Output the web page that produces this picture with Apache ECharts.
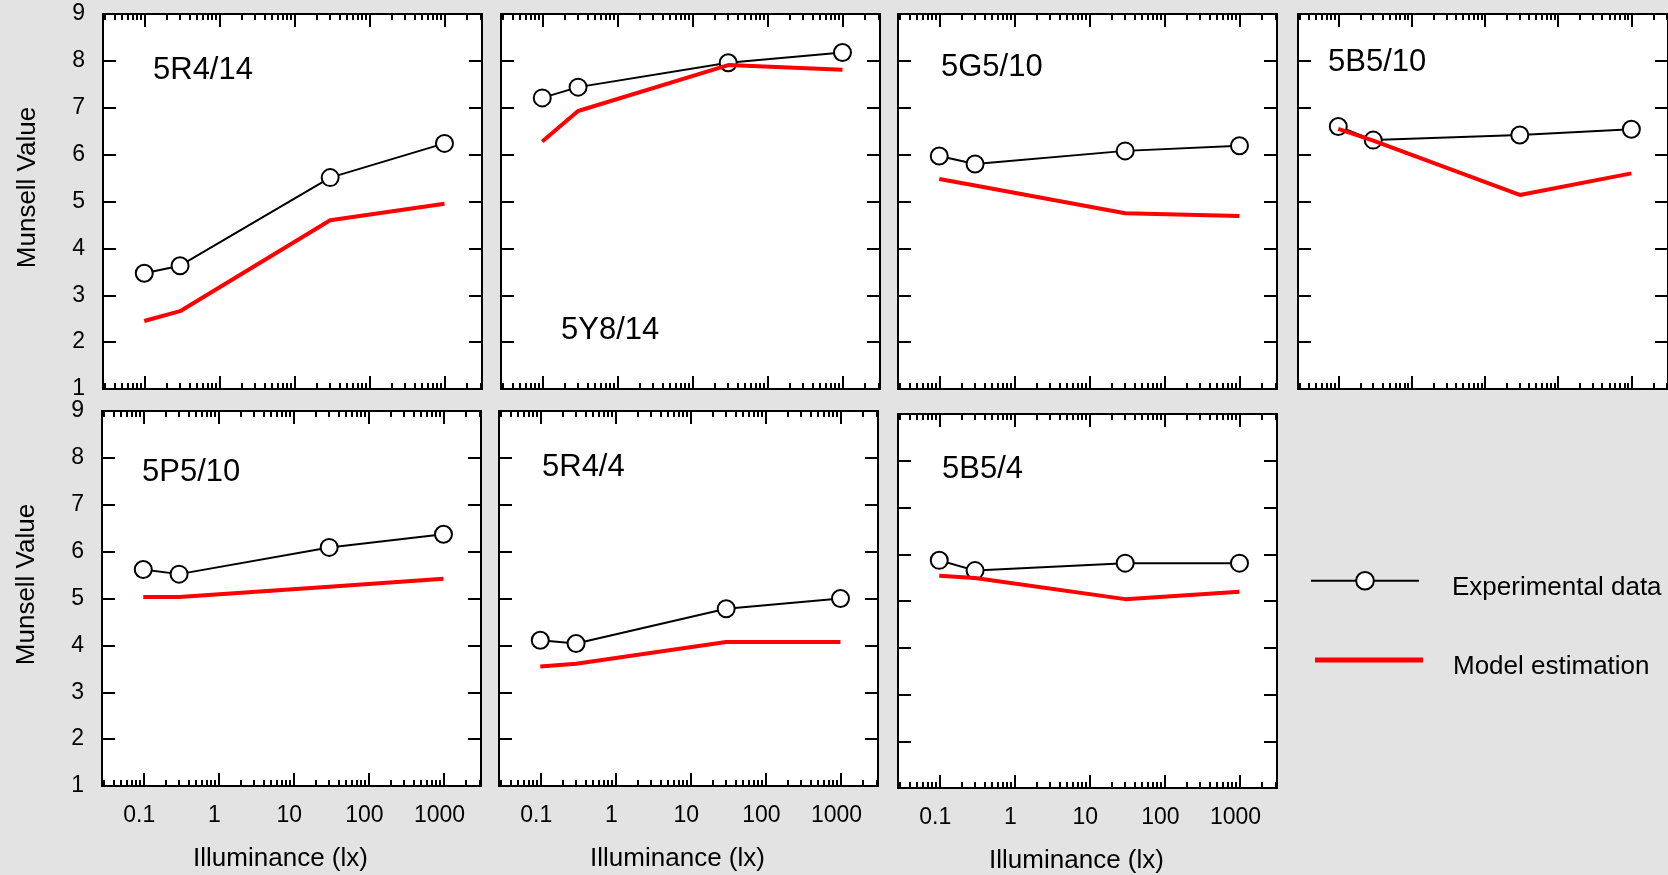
<!DOCTYPE html>
<html><head><meta charset="utf-8">
<script src="https://cdn.jsdelivr.net/npm/echarts@6/dist/echarts.min.js"></script>
<style>html,body{margin:0;padding:0;background:#e3e3e3;}#c{width:1668px;height:875px;}</style>
</head><body><div id="c"></div>
<script>
// ---------- data ----------
const illuminance = [0.1, 0.3, 30, 1000];
const panelNames = ['5R4/14', '5Y8/14', '5G5/10', '5B5/10', '5P5/10', '5R4/4', '5B5/4'];
const exp_5R4_14 = [3.47, 3.63, 5.51, 6.24];
const model_5R4_14 = [2.45, 2.66, 4.60, 4.95];
const exp_5Y8_14 = [7.21, 7.44, 7.96, 8.18];
const model_5Y8_14 = [6.28, 6.93, 7.91, 7.81];
const exp_5G5_10 = [5.97, 5.80, 6.08, 6.19];
const model_5G5_10 = [5.48, 5.34, 4.75, 4.69];
const exp_5B5_10 = [6.60, 6.31, 6.42, 6.54];
const model_5B5_10 = [6.55, 6.30, 5.14, 5.60];
const exp_5P5_10 = [5.62, 5.52, 6.09, 6.37];
const model_5P5_10 = [5.03, 5.03, 5.25, 5.42];
const exp_5R4_4 = [4.11, 4.04, 4.78, 5.00];
const model_5R4_4 = [3.55, 3.61, 4.07, 4.07];
const exp_5B5_4 = [5.87, 5.65, 5.81, 5.81];
const model_5B5_4 = [5.54, 5.49, 5.04, 5.20];
const xTickValues = [0.1, 1, 10, 100, 1000];
const xTickLabels = ['0.1', '1', '10', '100', '1000'];
const seriesNames = ['Experimental data', 'Model estimation'];
const xAxisName = 'Illuminance (lx)';
const yAxisName = 'Munsell Value';

// ---------- layout ----------
const FONT = "'Liberation Sans', Arial, sans-serif";
const xMin = 0.0282, xMax = 3162;
const yMin = 1, yMax = 9;
const expArr = [exp_5R4_14, exp_5Y8_14, exp_5G5_10, exp_5B5_10, exp_5P5_10, exp_5R4_4, exp_5B5_4];
const modelArr = [model_5R4_14, model_5Y8_14, model_5G5_10, model_5B5_10, model_5P5_10, model_5R4_4, model_5B5_4];
const boxes = [
  {left: 103, top: 14, lx: 153, ly: 55},
  {left: 501, top: 14, lx: 561, ly: 315},
  {left: 898, top: 14, lx: 941, ly: 52},
  {left: 1298, top: 14, lx: 1328, ly: 47},
  {left: 102, top: 411, lx: 142, ly: 457},
  {left: 499, top: 411, lx: 542, ly: 452},
  {left: 898, top: 414, lx: 942, ly: 454}
];
const W = 379, H = 375;
const bottomRow = [4, 5, 6];
const leftCol = [0, 4];

const minorTicks = [];
[0.01, 0.1, 1, 10, 100, 1000].forEach(d => { for (let k = 2; k <= 9; k++) { const v = +(d * k).toPrecision(6); if (v > xMin && v < xMax) minorTicks.push(v); } });

const tickLine = {color: '#000', width: 2};
const grid = [], xAxis = [], yAxis = [], series = [], title = [];
boxes.forEach((b, g) => {
  grid.push({left: b.left, top: b.top, width: W, height: H, show: true, backgroundColor: '#fff', borderColor: '#000', borderWidth: 2, containLabel: false});
  const isBottom = bottomRow.includes(g);
  const isLeft = leftCol.includes(g);
  const mk = (pos, major) => ({
    type: 'log', logBase: 10, gridIndex: g, position: pos, min: xMin, max: xMax,
    axisLine: {show: false}, splitLine: {show: false}, minorTick: {show: false},
    axisTick: {show: true, inside: true, length: major ? 13 : 6, lineStyle: tickLine,
      customValues: major ? xTickValues : minorTicks},
    axisLabel: (major && pos === 'bottom' && isBottom) ? {
      show: true, customValues: xTickValues, margin: 18, fontSize: 23, color: '#000', fontFamily: FONT,
      padding: [0, 8, 0, 0],
      formatter: v => { const i = xTickValues.findIndex(t => Math.abs(t - v) / t < 1e-6); return i >= 0 ? xTickLabels[i] : ''; }
    } : {show: false},
    name: (major && pos === 'bottom' && isBottom) ? xAxisName : '',
    nameLocation: 'middle', nameGap: 60,
    nameTextStyle: {fontSize: 26, color: '#000', fontFamily: FONT, padding: [0, 22, 0, 0]}
  });
  xAxis.push(mk('bottom', true), mk('bottom', false), mk('top', true), mk('top', false));
  const mky = (pos) => ({
    type: 'value', gridIndex: g, position: pos, min: yMin, max: yMax, interval: 1,
    axisLine: {show: false}, splitLine: {show: false},
    axisTick: {show: true, inside: true, length: 13, lineStyle: tickLine},
    axisLabel: (pos === 'left' && isLeft) ? {show: true, margin: 18, fontSize: 23, color: '#000', fontFamily: FONT} : {show: false},
    name: (pos === 'left' && isLeft) ? yAxisName : '',
    nameLocation: 'middle', nameGap: 62, nameRotate: 90,
    nameTextStyle: {fontSize: 26, color: '#000', fontFamily: FONT, padding: [0, 0, 0, 28]}
  });
  yAxis.push(mky('left'), mky('right'));
  series.push({
    type: 'line', name: seriesNames[0], xAxisIndex: g * 4, yAxisIndex: g * 2, z: 3,
    data: illuminance.map((x, i) => [x, expArr[g][i]]),
    symbol: 'circle', symbolSize: 17, showSymbol: true,
    lineStyle: {color: '#000', width: 2},
    itemStyle: {color: '#fff', borderColor: '#000', borderWidth: 2},
    emphasis: {disabled: true}, animation: false
  });
  series.push({
    type: 'line', name: seriesNames[1], xAxisIndex: g * 4, yAxisIndex: g * 2, z: 4,
    data: illuminance.map((x, i) => [x, modelArr[g][i]]),
    symbol: 'none',
    lineStyle: {color: '#ff0000', width: 4},
    itemStyle: {color: '#ff0000'},
    emphasis: {disabled: true}, animation: false
  });
  title.push({text: panelNames[g], left: b.lx, top: b.ly, padding: 0,
    textStyle: {fontSize: 31, fontWeight: 'normal', color: '#000', fontFamily: FONT}});
});

const legendText = (padLeft) => ({
  fontSize: 26, color: '#000', fontFamily: FONT,
  rich: {t: {fontSize: 26, color: '#000', fontFamily: FONT, padding: [14, 0, 0, padLeft]}}
});

const chart = echarts.init(document.getElementById('c'), null, {renderer: 'canvas'});
chart.setOption({
  backgroundColor: '#e3e3e3',
  animation: false,
  title, grid, xAxis, yAxis, series,
  legend: [
    {
      orient: 'vertical', left: 1310, top: 571, padding: 0,
      itemWidth: 108, itemHeight: 22, selectedMode: false,
      data: [seriesNames[0]],
      formatter: '{t|{name}}',
      lineStyle: {width: 2},
      textStyle: legendText(28)
    },
    {
      orient: 'vertical', left: 1315, top: 654, padding: 0,
      itemWidth: 108, itemHeight: 22, selectedMode: false,
      data: [{name: seriesNames[1], icon: 'path://M0,0H108V5H0Z'}],
      symbolKeepAspect: true,
      formatter: '{t|{name}}',
      textStyle: legendText(25)
    }
  ]
});
</script></body></html>
